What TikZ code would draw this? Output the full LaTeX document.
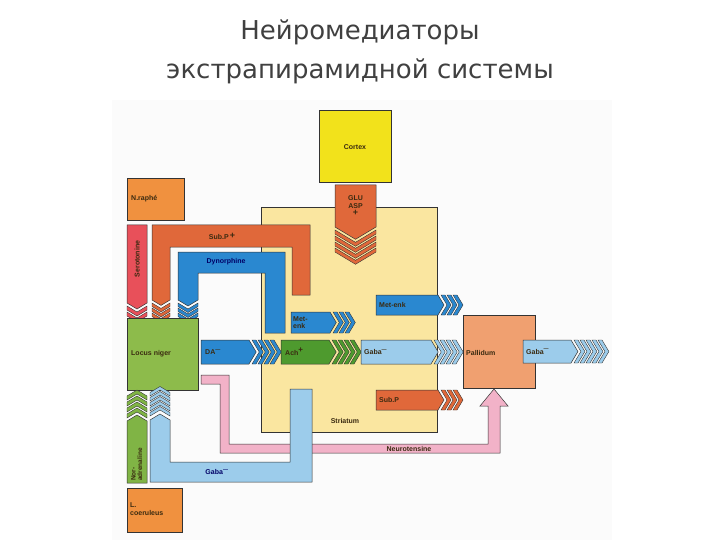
\documentclass[tikz,border=0pt]{standalone}
\usepackage{fontspec}
\setmainfont{Liberation Sans}
\newfontfamily\titlefont{DejaVu Sans}
\definecolor{cyel}{HTML}{F2E21B}
\definecolor{cstr}{HTML}{FAE6A0}
\definecolor{corg}{HTML}{F0913F}
\definecolor{cpal}{HTML}{F0A070}
\definecolor{cred}{HTML}{E0683A}
\definecolor{cblu}{HTML}{2A88D0}
\definecolor{clbl}{HTML}{9CCCEB}
\definecolor{cgrn}{HTML}{4E9A2E}
\definecolor{cloc}{HTML}{8DBB4B}
\definecolor{cpnk}{HTML}{F2B2C8}
\definecolor{cser}{HTML}{E8505A}
\definecolor{ctxt}{HTML}{3A2A10}
\tikzset{
 box/.style={draw=black!80,line width=.5pt},
 lbl/.style={font=\bfseries\fontsize{7}{7.5}\selectfont,text=ctxt,inner sep=0pt,align=left},
 pics/arr/.style n args={4}{code={
  \filldraw[fill=#1,draw=black!80,line width=.5pt] (0,-#3)--(#2,-#3)--({#2+0.6*#3},0)--(#2,#3)--(0,#3)--cycle;
  \foreach \i in {1,...,#4}{\filldraw[fill=#1,draw=black!80,line width=.4pt]
   ({#2+\i*6-3},#3)--({#2+\i*6-3+0.6*#3},0)--({#2+\i*6-3},-#3)--({#2+\i*6+1},-#3)--({#2+\i*6+1+0.6*#3},0)--({#2+\i*6+1},#3)--cycle;}}},
 pics/chv/.style n args={3}{code={
  \foreach \i in {1,...,#2}{\filldraw[fill=#1,draw=black!80,line width=.4pt]
   ({\i*5-5},#3)--({\i*5-5+0.6*#3},0)--({\i*5-5},-#3)--({\i*5-1.5},-#3)--({\i*5-1.5+0.6*#3},0)--({\i*5-1.5},#3)--cycle;}}}
}
\begin{document}
\begin{tikzpicture}[x=1pt,y=-1pt]
\useasboundingbox (0,0) rectangle (720,540);
\node[font=\titlefont\fontsize{26}{39}\selectfont,text=black!75,align=center] (title) at (360,52) {Нейромедиаторы\\экстрапирамидной системы};
\fill[black!1.5] (112,100) rectangle (612,540);
% striatum
\filldraw[box,fill=cstr] (261,207) rectangle (437,432);
\node[lbl] (striatum) at (345,421) {Striatum};
% cortex
\filldraw[box,fill=cyel] (319,110) rectangle (391,182);
\node[lbl] (cortex) at (355,147) {Cortex};
\pic[rotate=-90] at (355.5,185) {arr={cred}{42}{20.5}{4}};
\node[lbl,align=center] (glu) at (355.5,206) {GLU\\ASP\\\fontsize{9}{9}\selectfont +};
% raphe
\filldraw[box,fill=corg] (127,178) rectangle (184,220);
\node[lbl] (raphe) at (131,199) [anchor=west] {N.raphé};
% pink neurotensine
\filldraw[box,fill=cpnk] (201,375)--(229,375)--(229,444)--(488,444)--(488,406)--(480,406)--(494,389)--(508,406)--(500,406)--(500,453)--(220,453)--(220,384)--(201,384)--cycle;
\node[lbl] (neuro) at (409,448.5) {Neurotensine};
% serotonine
\pic[rotate=-90] at (137,225) {arr={cser}{78}{10}{2}};
\node[lbl,rotate=90] (sero) at (137,259) {Serotonine};
% sub P+
\filldraw[box,fill=cred] (152,300)--(152,225)--(310,225)--(310,295)--(292,295)--(292,247)--(170,247)--(170,300)--(161,305.4)--cycle;
\pic[rotate=-90] at (161,303) {chv={cred}{3}{9}};
\node[lbl] (subp1) at (222,236) {Sub.P\,\raisebox{1pt}{\fontsize{9}{9}\selectfont +}};
% dynorphine
\filldraw[box,fill=cblu] (178,300)--(178,252)--(285,252)--(285,333)--(265,333)--(265,273)--(198,273)--(198,300)--(188,306)--cycle;
\pic[rotate=-90] at (188,303) {chv={cblu}{3}{10}};
\node[lbl,text=blue!40!black] (dyn) at (226,262) {Dynorphine};
% met-enk small
\pic at (291,322.5) {arr={cblu}{39}{10.5}{3}};
\node[lbl,anchor=west] (metenk1) at (293,322.5) {Met-\\enk};
% met-enk
\pic at (376,305) {arr={cblu}{62}{10}{3}};
\node[lbl,anchor=west] (metenk2) at (379,305) {Met-enk};
% locus niger
\filldraw[box,fill=cloc] (127,318) rectangle (198,390);
\node[lbl,anchor=west] (locus) at (131,354) {Locus niger};
% DA
\pic at (201,352) {arr={cblu}{48}{12}{4}};
\node[lbl,anchor=west] (da) at (205,352) {DA\textsuperscript{—}};
% Ach
\pic at (281,352) {arr={cgrn}{48}{12}{4}};
\node[lbl,anchor=west] (ach) at (285,352) {Ach\textsuperscript{\fontsize{8}{8}\selectfont +}};
% Gaba striatum
\pic at (361,352) {arr={clbl}{70}{12}{4}};
\node[lbl,anchor=west] (gaba1) at (364,352) {Gaba\textsuperscript{—}};
% Sub.P
\pic at (376,400) {arr={cred}{62}{10}{3}};
\node[lbl,anchor=west] (subp2) at (379,400) {Sub.P};
% pallidum
\filldraw[box,fill=cpal] (463,315) rectangle (535,388);
\node[lbl,anchor=west] (pall) at (466,353) {Pallidum};
\pic at (523,351.5) {arr={clbl}{48}{11.5}{5}};
\node[lbl,anchor=west] (gaba3) at (526,351.5) {Gaba\textsuperscript{—}};
% Gaba bottom
\filldraw[box,fill=clbl] (150,420)--(150,482)--(312,482)--(312,389)--(290,389)--(290,462)--(170,462)--(170,420)--(160,414)--cycle;
\pic[rotate=90] at (160,416) {chv={clbl}{5}{10}};
\node[lbl,text=blue!40!black] (gaba2) at (217,472) {Gaba\textsuperscript{—}};
% noradrenaline
\pic[rotate=90] at (137,483) {arr={cloc!80!cgrn}{62}{10}{4}};
\node[lbl,rotate=90,anchor=north west,font=\bfseries\fontsize{6.5}{6.5}\selectfont] (nor) at (131,481) {Nor-\\adrenaline};
% L coeruleus
\filldraw[box,fill=corg] (127,488) rectangle (182,532);
\node[lbl,anchor=west] (lc) at (130,509) {L.\\coeruleus};
\end{tikzpicture}
\end{document}
